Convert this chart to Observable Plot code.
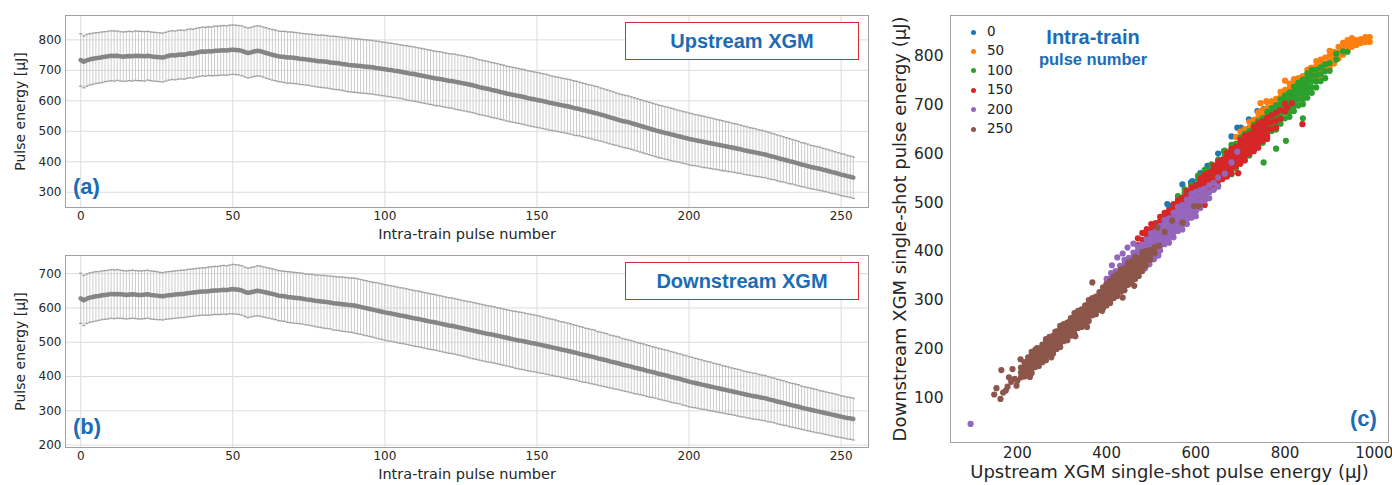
<!DOCTYPE html>
<html>
<head>
<meta charset="utf-8">
<script src="https://cdn.jsdelivr.net/npm/d3@7"></script>
<script src="https://cdn.jsdelivr.net/npm/@observablehq/plot@0.6"></script>
<style>
  body { margin: 0; background: white; }
  #wrap { position: relative; width: 1392px; height: 485px; background: white; overflow: hidden; font-family: "DejaVu Sans", sans-serif; }
  .pane { position: absolute; }
  .pane svg { overflow: visible; }
  .box { position: absolute; box-sizing: border-box; border: 1.6px solid #d52b2e; background: white;
         display: flex; align-items: center; justify-content: center;
         font: bold 20px "Liberation Sans", Arial, sans-serif; color: #1b6cb6; }
  .plab { position: absolute; font: bold 22px "Liberation Sans", Arial, sans-serif; color: #1b6cb6; line-height: 1; }
  .ann { position: absolute; font-family: "Liberation Sans", Arial, sans-serif; font-weight: bold; color: #1b6cb6; text-align: center; line-height: 1; }
  .leg { position: absolute; font: 13.5px "DejaVu Sans", sans-serif; color: #222; line-height: 1; }
  .leg span.dot { position: absolute; width: 5px; height: 5px; border-radius: 50%; }
</style>
</head>
<body>
<div id="wrap">
  <div class="pane" id="pa" style="left:0;top:0"></div>
  <div class="pane" id="pb" style="left:0;top:240px"></div>
  <div class="pane" id="pc" style="left:880px;top:0"></div>
  <div class="box" style="left:625px;top:22px;width:234px;height:38px">Upstream XGM</div>
  <div class="box" style="left:625px;top:262px;width:234px;height:38px">Downstream XGM</div>
  <div class="plab" style="left:73px;top:176px">(a)</div>
  <div class="plab" style="left:73px;top:416px">(b)</div>
  <div class="plab" style="left:1350px;top:408px">(c)</div>
  <div class="ann" style="left:1018px;top:27px;width:150px;font-size:20px">Intra-train</div>
  <div class="ann" style="left:1018px;top:51px;width:150px;font-size:16.5px">pulse number</div>
  <div id="legend"></div>
</div>
<script>
// ---------- Panel (a): upstream XGM, mean and std per intra-train pulse ----------
const upMean = [
734,728,733,736,738,740,741,743,745,746,
748,747,748,746,745,746,747,746,748,747,
747,746,748,746,745,744,743,742,745,748,
750,749,751,752,751,754,756,755,758,760,
762,761,763,762,764,764,765,766,765,767,
768,767,766,764,760,757,759,762,764,763,
760,757,754,751,749,746,745,744,742,742,
741,740,738,737,736,735,733,732,730,730,
729,728,726,725,724,723,721,720,718,717,
716,715,714,713,712,711,710,708,707,705,
704,702,701,699,698,696,694,692,690,689,
687,685,683,681,679,677,675,673,672,670,
668,666,665,663,661,659,657,655,653,651,
648,645,643,641,639,636,634,632,629,627,
624,622,620,618,616,614,612,609,607,605,
603,601,599,597,594,592,590,588,586,584,
582,580,577,575,573,570,568,565,563,560,
558,555,552,549,546,543,540,537,534,532,
530,527,524,521,518,515,512,509,506,503,
500,498,495,493,490,488,485,483,480,478,
475,473,471,469,467,465,463,461,459,457,
455,453,451,449,447,445,443,441,438,436,
434,432,430,428,426,424,421,418,416,413,
410,408,405,402,400,397,394,391,389,386,
383,381,379,377,374,372,369,366,364,361,
358,356,353,351,348];
const upStd = [
86,85,85,84,84,83,83,83,82,82,
82,82,81,81,81,81,81,81,81,81,
81,81,80,80,80,80,80,80,80,80,
80,80,80,80,80,80,80,80,80,80,
80,80,80,80,81,81,81,81,81,81,
81,81,81,82,82,82,82,82,82,82,
82,83,83,83,83,83,83,84,84,84,
84,84,84,84,84,84,85,85,85,86,
86,86,86,87,87,87,87,88,88,88,
88,88,88,88,88,88,88,88,88,88,
88,88,88,88,88,88,88,89,89,89,
89,89,89,89,89,89,89,89,89,89,
89,89,89,90,90,90,90,90,90,90,
90,90,90,90,90,90,90,90,90,90,
90,90,90,90,90,90,90,90,90,90,
90,90,90,90,90,89,89,89,89,89,
89,89,89,89,88,88,88,88,88,88,
88,87,87,87,87,87,86,86,86,86,
86,86,86,86,86,86,86,86,86,86,
86,86,86,86,86,86,85,85,85,85,
85,85,84,84,84,84,83,83,83,82,
82,82,81,81,80,80,80,79,79,79,
78,78,78,77,77,76,76,76,75,75,
75,74,74,74,73,73,73,72,72,72,
71,71,71,71,70,70,70,70,69,69,
69,69,68,68,68];

// ---------- Panel (b): downstream XGM ----------
const downMean = [
628,622,627,630,632,634,635,637,638,639,
641,640,641,640,639,638,639,640,639,638,
638,639,640,638,637,636,635,634,636,637,
638,639,640,641,641,643,644,645,646,647,
648,648,649,650,651,651,652,653,652,654,
655,654,653,651,647,644,646,648,650,649,
647,645,643,641,639,636,635,634,632,631,
630,629,628,627,625,624,623,621,620,619,
618,617,616,614,613,612,611,610,609,608,
607,605,603,601,599,597,595,593,591,589,
587,585,584,582,580,578,577,575,573,571,
569,568,566,564,562,560,559,557,555,553,
551,549,548,546,544,542,540,538,536,534,
532,530,528,526,524,523,521,519,517,515,
513,511,509,507,505,504,502,500,498,497,
495,493,491,489,487,485,483,481,479,477,
475,473,471,469,466,464,462,460,458,456,
453,451,449,447,444,442,440,438,435,433,
431,429,426,424,422,420,417,415,413,411,
408,406,404,402,399,397,395,393,390,388,
385,383,381,379,377,375,373,371,369,367,
365,363,361,359,357,355,353,351,349,347,
345,343,342,340,338,337,334,332,330,327,
325,323,321,318,316,314,312,309,307,305,
303,301,299,297,295,293,291,289,287,285,
283,281,279,278,276];
const downStd = [
73,73,72,72,72,72,71,71,71,71,
71,71,71,70,70,70,70,70,70,70,
70,70,70,70,70,70,69,69,69,69,
69,69,69,69,69,69,69,69,69,69,
69,69,70,70,70,70,71,71,71,71,
72,72,72,72,72,72,72,72,73,73,
73,73,73,73,73,73,73,73,74,74,
74,74,74,74,74,74,75,75,76,76,
77,77,77,78,78,78,79,79,79,79,
80,80,80,80,80,80,80,81,81,81,
81,81,81,81,81,81,81,81,81,81,
81,81,81,81,81,81,81,81,81,81,
81,81,81,81,81,81,81,81,82,82,
82,82,82,82,82,82,82,82,82,82,
82,82,82,83,83,83,83,83,83,83,
83,83,82,82,82,82,82,81,81,81,
81,81,80,80,80,80,79,79,79,79,
78,78,78,78,77,77,77,77,76,76,
76,76,76,75,75,75,75,75,74,74,
74,74,74,74,74,74,73,73,73,73,
73,73,72,72,72,71,71,71,70,70,
70,69,69,69,68,68,68,68,67,67,
67,67,67,66,66,66,66,65,65,65,
65,65,64,64,64,64,64,63,63,63,
63,63,63,62,62,62,62,62,62,62,
61,61,61,61,61];

const pulseTicks = [0, 50, 100, 150, 200, 250];
const upTicks = [300, 400, 500, 600, 700, 800];
const downTicks = [200, 300, 400, 500, 600, 700];

// ---------- Panel (c): single-shot scatter, [upstream, downstream] per group ----------
const groupLabels = ["0", "50", "100", "150", "200", "250"];
const groupColors = ["#1f77b4", "#ff7f0e", "#2ca02c", "#d62728", "#9467bd", "#8c564b"];
const scatterXTicks = [200, 400, 600, 800, 1000];
const scatterYTicks = [100, 200, 300, 400, 500, 600, 700, 800];

const g0 = [[536,497],[540,493],[570,537],[589,541],[592,544],[626,575],[693,653],[701,653],[719,670],[738,687],[752,691],[940,823],[955,827],[650,600],[610,560],[680,635],[905,800],
[600,530],[620,545],[640,562],[660,580],[700,615],[720,630],[740,650],[760,665],[780,685],[800,700],[820,718],[840,735],[860,752],[880,770]];

const g50 = [[690,620],[690,634],[700,621],[700,633],[700,645],[710,626],[710,638],[710,650],[720,641],[720,653],[720,665],
[730,645],[730,657],[730,669],[740,650],[740,662],[740,674],[740,684],[750,665],[750,677],[750,689],
[760,669],[760,681],[760,693],[760,705],[770,683],[770,695],[770,707],[780,688],[780,700],[780,712],
[790,692],[790,704],[790,716],[790,726],[800,706],[800,718],[800,730],[810,709],[810,721],[810,733],[810,743],
[820,723],[820,735],[820,747],[830,720],[830,732],[830,744],[830,754],[840,734],[840,746],[840,758],
[850,737],[850,749],[850,761],[850,771],[860,751],[860,763],[860,775],[870,755],[870,767],[870,779],[870,789],
[880,758],[880,770],[880,782],[880,792],[890,772],[890,784],[890,796],[900,776],[900,788],[900,800],[900,810],
[910,784],[910,796],[910,808],[920,794],[920,806],[920,818],[930,802],[930,814],[930,826],[940,810],[940,822],[940,832],
[950,818],[950,828],[950,836],[960,822],[960,832],[970,826],[970,834],[980,828],[980,838],[990,828],[990,838],
[745,703],[758,707],[800,749],[858,775],[820,752]];

const g100 = [[560,505],[560,513],[575,520],[575,527],[590,481],[590,535],[605,547],[605,555],[620,505],[620,559],[620,567],
[635,570],[635,578],[650,533],[650,587],[663,605],[665,598],[665,606],[680,558],[680,610],[680,618],
[690,570],[690,580],[690,590],[690,600],[690,610],[690,620],[700,583],[700,593],[700,603],[700,613],[700,623],[700,633],
[710,594],[710,606],[710,618],[710,630],[710,641],[720,596],[720,606],[720,616],[720,626],[720,636],[720,646],
[730,609],[730,619],[730,629],[730,639],[730,649],[730,659],[740,620],[740,632],[740,644],[740,656],[740,667],
[750,622],[750,632],[750,642],[750,652],[750,662],[750,672],[760,635],[760,645],[760,655],[760,665],[760,675],[760,685],
[770,646],[770,658],[770,670],[770,682],[770,693],[780,649],[780,659],[780,669],[780,679],[780,689],[780,699],
[790,661],[790,671],[790,681],[790,691],[790,701],[790,711],[800,672],[800,684],[800,696],[800,708],[800,719],
[810,675],[810,685],[810,695],[810,705],[810,715],[810,725],[820,687],[820,697],[820,707],[820,717],[820,727],[820,737],
[830,698],[830,710],[830,722],[830,734],[830,745],[840,701],[840,711],[840,721],[840,731],[840,741],[840,751],
[850,714],[850,724],[850,734],[850,744],[850,754],[850,764],[860,724],[860,736],[860,748],[860,760],[860,771],
[870,735],[870,747],[870,759],[870,771],[880,748],[880,762],[880,776],[890,754],[890,768],[890,782],
[900,769],[900,785],[915,792],[915,804],[930,809],[940,808],
[802,626],[752,582],[780,610],[840,672]];

const g150 = [[470,413],[470,427],[480,424],[480,438],[490,400],[490,434],[490,446],[500,405],[500,445],[500,456],
[510,418],[510,428],[510,438],[510,448],[510,458],[520,422],[520,432],[520,442],[520,452],[520,462],[520,471],
[530,429],[530,439],[530,449],[530,459],[530,469],[530,479],[540,444],[540,454],[540,464],[540,474],[540,484],
[550,448],[550,458],[550,468],[550,478],[550,488],[550,497],[560,455],[560,465],[560,475],[560,485],[560,495],[560,505],
[570,470],[570,480],[570,490],[570,500],[570,510],[580,475],[580,485],[580,495],[580,505],[580,515],[580,524],
[590,481],[590,491],[590,501],[590,511],[590,521],[590,531],[600,496],[600,506],[600,516],[600,526],[600,536],
[610,501],[610,511],[610,521],[610,531],[610,541],[610,550],[620,507],[620,517],[620,527],[620,537],[620,547],[620,557],
[630,522],[630,532],[630,542],[630,552],[630,562],[640,527],[640,537],[640,547],[640,557],[640,567],[640,576],
[650,534],[650,544],[650,554],[650,564],[650,574],[650,584],[660,548],[660,558],[660,568],[660,578],[660,588],
[670,553],[670,563],[670,573],[670,583],[670,593],[670,602],[680,560],[680,570],[680,580],[680,590],[680,600],[680,610],
[690,574],[690,584],[690,594],[690,604],[690,614],[700,579],[700,589],[700,599],[700,609],[700,619],[700,628],
[710,586],[710,596],[710,606],[710,616],[710,626],[710,636],[720,600],[720,610],[720,620],[720,630],[720,640],
[730,605],[730,615],[730,625],[730,635],[730,645],[730,654],[740,612],[740,622],[740,632],[740,642],[740,652],[740,662],
[750,626],[750,636],[750,646],[750,656],[750,666],[760,637],[760,649],[760,661],[760,673],
[770,650],[770,664],[770,678],[780,653],[780,667],[780,683],[790,671],[790,689],[800,686],[800,702],[815,703],
[839,660],[805,694],[760,630],[695,560],[620,495]];

const g200 = [[95,48],[412,372],[424,388],[436,396],[447,408],[460,416],
[400,294],[400,304],[400,314],[400,324],[400,334],[400,344],[410,307],[410,317],[410,327],[410,337],[410,347],[410,356],
[420,310],[420,320],[420,330],[420,340],[420,350],[420,360],[430,321],[430,331],[430,341],[430,351],[430,361],[430,371],
[440,334],[440,344],[440,354],[440,364],[440,374],[440,383],[450,337],[450,347],[450,357],[450,367],[450,377],[450,387],
[460,348],[460,358],[460,368],[460,378],[460,388],[460,398],[470,361],[470,371],[470,381],[470,391],[470,401],[470,410],
[480,364],[480,374],[480,384],[480,394],[480,404],[480,414],[490,375],[490,385],[490,395],[490,405],[490,415],[490,425],
[500,388],[500,398],[500,408],[500,418],[500,428],[500,437],[510,391],[510,401],[510,411],[510,421],[510,431],[510,441],
[520,402],[520,412],[520,422],[520,432],[520,442],[520,452],[530,415],[530,425],[530,435],[530,445],[530,455],[530,464],
[540,418],[540,428],[540,438],[540,448],[540,458],[540,468],[550,429],[550,439],[550,449],[550,459],[550,469],[550,479],
[560,442],[560,452],[560,462],[560,472],[560,482],[560,491],[570,445],[570,455],[570,465],[570,475],[570,485],[570,495],
[580,456],[580,466],[580,476],[580,486],[580,496],[580,506],[590,469],[590,479],[590,489],[590,499],[590,509],[590,518],
[600,472],[600,482],[600,492],[600,502],[600,512],[600,522],[610,489],[610,501],[610,513],[610,525],
[620,504],[620,516],[620,528],[630,509],[630,521],[630,535],[640,526],[640,540],[650,533],[650,551],
[665,559],[680,582],[693,604],
[486,366],[496,374],[506,384],[516,392]];

const g250 = [[148,108],[153,121],[162,99],[164,158],[174,116],[181,143],[198,126],[189,160],[207,180],[228,144],
[168,112],[178,124],[186,134],[194,140],[200,136],
[208,143],[208,153],[208,163],[216,145],[216,155],[216,165],[216,174],
[224,148],[224,157],[224,166],[224,175],[224,184],[232,152],[232,161],[232,170],[232,179],[232,188],[232,195],
[240,164],[240,173],[240,182],[240,191],[240,199],[248,166],[248,175],[248,184],[248,193],[248,202],
[256,174],[256,183],[256,192],[256,201],[256,210],[264,178],[264,187],[264,196],[264,205],[264,214],[264,221],
[272,191],[272,200],[272,209],[272,218],[272,226],[280,192],[280,201],[280,210],[280,219],[280,228],
[288,201],[288,210],[288,219],[288,228],[288,237],[296,205],[296,214],[296,223],[296,232],[296,241],[296,248],
[304,217],[304,226],[304,235],[304,244],[304,252],[312,219],[312,228],[312,237],[312,246],[312,255],
[320,228],[320,237],[320,246],[320,255],[320,264],[328,231],[328,240],[328,249],[328,258],[328,267],[328,274],
[336,244],[336,253],[336,262],[336,271],[336,279],[344,246],[344,255],[344,264],[344,273],[344,282],
[352,254],[352,263],[352,272],[352,281],[352,290],[360,258],[360,267],[360,276],[360,285],[360,294],[360,301],
[368,270],[368,279],[368,288],[368,297],[368,305],[376,272],[376,281],[376,290],[376,299],[376,308],
[384,281],[384,290],[384,299],[384,308],[384,317],[392,284],[392,293],[392,302],[392,311],[392,320],[392,327],
[400,290],[400,299],[400,308],[400,317],[400,326],[400,334],[408,295],[408,304],[408,313],[408,322],[408,331],[408,340],
[416,305],[416,314],[416,323],[416,332],[416,341],[416,349],[424,309],[424,318],[424,327],[424,336],[424,345],[424,354],
[432,318],[432,327],[432,336],[432,345],[432,354],[432,363],[440,321],[440,330],[440,339],[440,348],[440,357],[440,366],
[448,332],[448,341],[448,350],[448,359],[448,368],[448,377],[456,335],[456,344],[456,353],[456,362],[456,371],[456,380],
[464,344],[464,353],[464,362],[464,371],[464,380],[464,389],[472,350],[472,359],[472,368],[472,377],[472,386],
[480,360],[480,370],[480,380],[480,390],[480,399],[488,371],[488,381],[488,391],[488,401],
[498,383],[498,393],[498,403],[508,397],[508,409],[518,412],
[244,203],[276,184],[318,258],[356,246],[404,330],[436,306],[462,330],[220,170],[285,236],[330,227],
[368,337],[390,279],[514,449],[530,440],[547,463],[570,459],[596,493],[607,493]];

const groupPoints = [g0, g50, g100, g150, g200, g250];

// ---------- drawing ----------
const textColor = "#262626";
function profilePanel(mean, std, yDomain, yTicks) {
  const rows = mean.map((m, i) => ({p: i, m, lo: m - std[i], hi: m + std[i]}));
  return Plot.plot({
    width: 880, height: 245,
    marginLeft: 65, marginRight: 12, marginTop: 15, marginBottom: 38,
    style: {fontFamily: "DejaVu Sans", color: textColor, background: "transparent", overflow: "visible"},
    x: {domain: [-5, 259]},
    y: {domain: yDomain},
    marks: [
      Plot.gridX(pulseTicks, {stroke: "#dcdcdc", strokeOpacity: 1}),
      Plot.gridY(yTicks, {stroke: "#dcdcdc", strokeOpacity: 1}),
      Plot.ruleX(rows, {x: "p", y1: "lo", y2: "hi", stroke: "#c6c6c6", strokeWidth: 0.9}),
      Plot.link(rows, {x1: d => d.p - 0.5, x2: d => d.p + 0.5, y1: "hi", y2: "hi", stroke: "#a0a0a0", strokeWidth: 1.4}),
      Plot.link(rows, {x1: d => d.p - 0.5, x2: d => d.p + 0.5, y1: "lo", y2: "lo", stroke: "#a0a0a0", strokeWidth: 1.4}),
      Plot.line(rows, {x: "p", y: "m", stroke: "#858585", strokeWidth: 4.5}),
      Plot.frame({stroke: "#a0a0a0"}),
      Plot.axisX(pulseTicks, {tickSize: 0, tickPadding: 4, fontSize: 12, label: null}),
      Plot.axisY(yTicks, {tickSize: 0, tickPadding: 4, fontSize: 12, label: null}),
      Plot.text(["Intra-train pulse number"], {text: d => d, frameAnchor: "bottom", dy: 31, fontSize: 14.5, fill: textColor}),
      Plot.text(["Pulse energy [μJ]"], {text: d => d, frameAnchor: "left", textAnchor: "middle", dx: -45, rotate: -90, fontSize: 14, fill: textColor})
    ]
  });
}

document.getElementById("pa").append(profilePanel(upMean, upStd, [250, 880], upTicks));
document.getElementById("pb").append(profilePanel(downMean, downStd, [193, 753], downTicks));

const scatterMarks = groupPoints.map((pts, gi) =>
  Plot.dot(pts, {x: d => d[0], y: d => d[1], r: 3.1, fill: groupColors[gi], stroke: "none"}));

const chartC = Plot.plot({
  width: 512, height: 485,
  marginLeft: 70, marginRight: 4, marginTop: 15, marginBottom: 43,
  style: {fontFamily: "DejaVu Sans", color: textColor, background: "transparent", overflow: "visible"},
  x: {domain: [50, 1032]},
  y: {domain: [10, 882]},
  marks: [
    ...scatterMarks,
    Plot.frame({stroke: "#a0a0a0"}),
    Plot.axisX(scatterXTicks, {tickSize: 0, tickPadding: 5, fontSize: 15, tickFormat: d => String(d), label: null}),
    Plot.axisY(scatterYTicks, {tickSize: 0, tickPadding: 7, fontSize: 15.5, tickFormat: d => String(d), label: null}),
    Plot.text(["Upstream XGM single-shot pulse energy (μJ)"], {text: d => d, frameAnchor: "bottom", dy: 35, fontSize: 18, fill: textColor}),
    Plot.text(["Downstream XGM single-shot pulse energy (μJ)"], {text: d => d, frameAnchor: "left", textAnchor: "middle", dx: -50, rotate: -90, fontSize: 18, fill: textColor})
  ]
});
document.getElementById("pc").append(chartC);

// legend
const legend = document.getElementById("legend");
groupLabels.forEach((lab, i) => {
  const row = document.createElement("div");
  row.className = "leg";
  row.style.left = "970px";
  row.style.top = (25 + i * 19.4) + "px";
  row.style.width = "60px";
  row.style.height = "14px";
  const dot = document.createElement("span");
  dot.className = "dot";
  dot.style.background = groupColors[i];
  dot.style.left = "0.5px";
  dot.style.top = "4.5px";
  const t = document.createElement("span");
  t.textContent = lab;
  t.style.position = "absolute";
  t.style.left = "17px";
  t.style.top = "0px";
  row.append(dot, t);
  legend.append(row);
});
</script>
</body>
</html>
